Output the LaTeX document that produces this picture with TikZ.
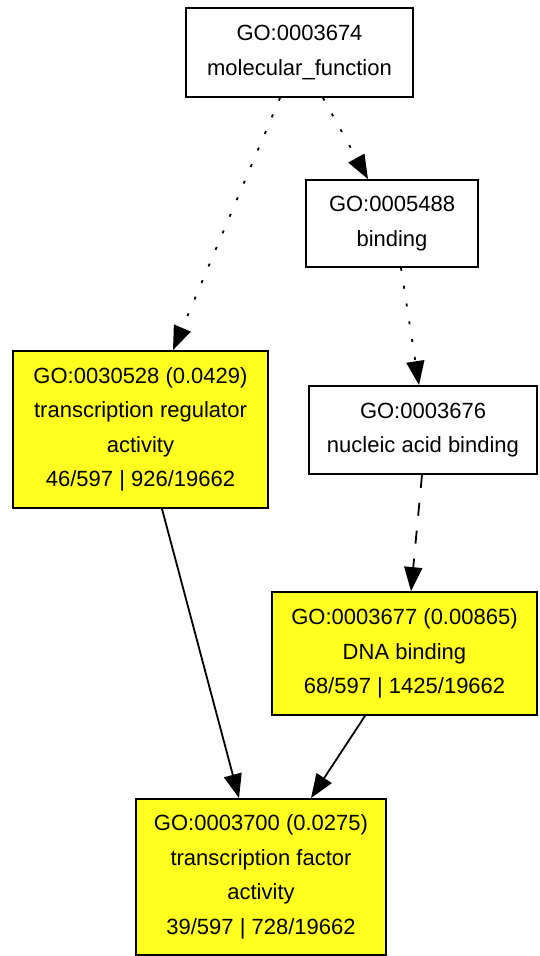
\documentclass[tikz,border=0pt]{standalone}
\usepackage{fontspec}
\setmainfont{Liberation Sans}
\usetikzlibrary{arrows.meta}
\definecolor{goyellow}{RGB}{255,255,32}
\begin{document}
\begin{tikzpicture}[x=1pt,y=-1pt,
  box/.style={draw=black, line width=1.8pt, rectangle, fill=white, inner sep=0pt,
    align=center, font=\fontsize{22}{34.5}\selectfont},
  sig/.style={box, fill=goyellow},
  edge/.style={line width=1.8pt, -{Triangle[length=24pt,width=18pt]}},
  dottededge/.style={edge, dash pattern=on 3pt off 15pt},
  dashededge/.style={edge, dash pattern=on 13pt off 15pt}]
\useasboundingbox (0,0) rectangle (540,956);
\node[box, minimum width=227pt, minimum height=89pt] (n1) at (299.5,52.5)
  {GO:0003674\\molecular\_function};
\node[box, minimum width=172pt, minimum height=87pt] (n2) at (392,223.5)
  {GO:0005488\\binding};
\node[sig, minimum width=255pt, minimum height=157pt] (n3) at (140.5,429.5)
  {GO:0030528 (0.0429)\\transcription regulator\\activity\\46/597 | 926/19662};
\node[box, minimum width=228pt, minimum height=88pt] (n4) at (423,430)
  {GO:0003676\\nucleic acid binding};
\node[sig, minimum width=265pt, minimum height=123pt] (n5) at (404.5,653.5)
  {GO:0003677 (0.00865)\\DNA binding\\68/597 | 1425/19662};
\node[sig, minimum width=250pt, minimum height=156pt] (n6) at (261,877)
  {GO:0003700 (0.0275)\\transcription factor\\activity\\39/597 | 728/19662};
\draw[dottededge] ([xshift=23.5pt]n1.south) -- ([xshift=-24pt]n2.north);
\draw[dottededge] ([xshift=-19.5pt]n1.south) -- ([xshift=32.5pt]n3.north);
\draw[dottededge] ([xshift=9pt]n2.south) -- ([xshift=-4pt]n4.north);
\draw[dashededge] ([xshift=-1pt]n4.south) -- ([xshift=6.5pt]n5.north);
\draw[edge] ([xshift=21.5pt]n3.south) -- ([xshift=-22pt]n6.north);
\draw[edge] ([xshift=-39.5pt]n5.south) -- ([xshift=50pt]n6.north);
\end{tikzpicture}
\end{document}
